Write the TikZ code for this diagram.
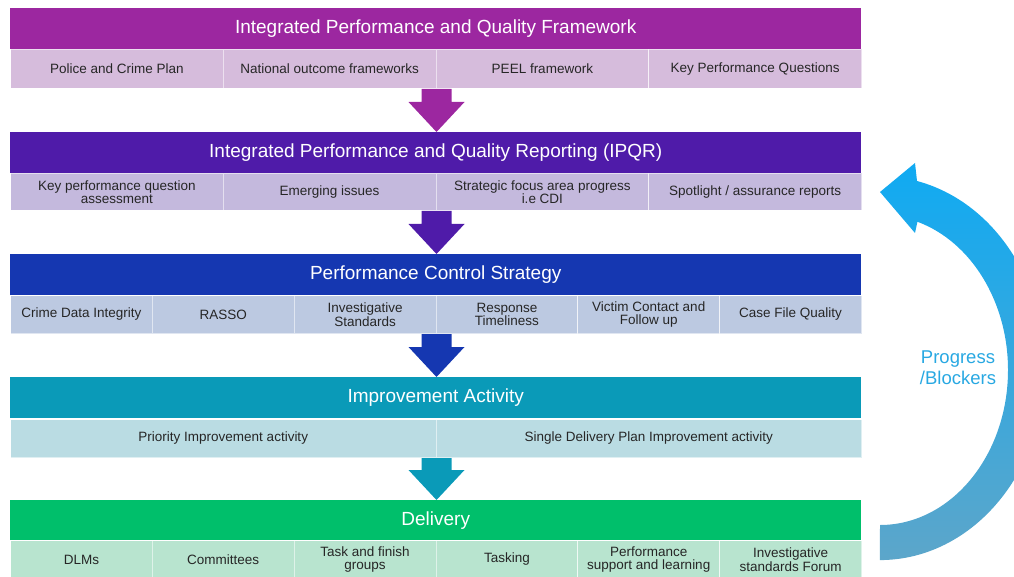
\documentclass[tikz,border=0pt]{standalone}
\usepackage{fontspec}
\setmainfont{Liberation Sans}
\usetikzlibrary{calc}

\definecolor{fwhead}{RGB}{156,39,160}
\definecolor{fwcell}{RGB}{214,188,220}
\definecolor{rphead}{RGB}{79,27,169}
\definecolor{rpcell}{RGB}{196,185,221}
\definecolor{cshead}{RGB}{21,55,177}
\definecolor{cscell}{RGB}{188,201,225}
\definecolor{iahead}{RGB}{10,154,184}
\definecolor{iacell}{RGB}{186,220,227}
\definecolor{dlhead}{RGB}{0,191,107}
\definecolor{dlcell}{RGB}{184,228,207}
\definecolor{looptop}{RGB}{16,170,242}
\definecolor{loopbot}{RGB}{92,166,202}
\definecolor{looptext}{RGB}{40,168,226}

\tikzset{
  hdr/.style={anchor=north west, minimum width=851, minimum height=41, inner sep=0,
    text=white, font=\fontsize{19}{22}\selectfont},
  cellbox/.style={anchor=north west, minimum height=38, inner sep=0, draw=white,
    draw opacity=0.55, line width=1, text=black!85, align=center,
    font=\fontsize{13.5}{13.5}\selectfont},
  quad/.style={cellbox, minimum width=212.75},
  sixth/.style={cellbox, minimum width=141.83},
  half/.style={cellbox, minimum width=425.5},
}

% block arrow from a row down to the next header
\newcommand{\flowarrow}[3]{%
  \fill[#3] let \p1=(#1), \p2=(#2) in
    (\x1-15pt,\y1) -- (\x1+15pt,\y1) -- (\x1+15pt,\y2+30pt) -- (\x1+28pt,\y2+30pt)
    -- (\x2,\y2) -- (\x1-28pt,\y2+30pt) -- (\x1-15pt,\y2+30pt) -- cycle;}

\begin{document}
\begin{tikzpicture}[x=1pt, y=-1pt]
    \useasboundingbox (0,0) rectangle (1014,577);

    % Framework
    \node[hdr, fill=fwhead] (ipqf) at (10,8) {Integrated Performance and Quality Framework};
    \node[quad, fill=fwcell, minimum height=39] (pcp) at (10,49) {Police and Crime Plan};
    \node[quad, fill=fwcell, minimum height=39] (nof) at (222.75,49) {National outcome frameworks};
    \node[quad, fill=fwcell, minimum height=39] (peel) at (435.5,49) {PEEL framework};
    \node[quad, fill=fwcell, minimum height=39] (kpq) at (648.25,49) {Key Performance Questions};

    % Reporting
    \node[hdr, fill=rphead] (ipqr) at (10,132) {Integrated Performance and Quality Reporting (IPQR)};
    \node[quad, fill=rpcell, minimum height=37] (kpqa) at (10,173) {Key performance question\\assessment};
    \node[quad, fill=rpcell, minimum height=37] (emerg) at (222.75,173) {Emerging issues};
    \node[quad, fill=rpcell, minimum height=37] (sfa) at (435.5,173) {Strategic focus area progress\\i.e CDI};
    \node[quad, fill=rpcell, minimum height=37] (spot) at (648.25,173) {Spotlight / assurance reports};

    % Control strategy
    \node[hdr, fill=cshead] (pcs) at (10,254) {Performance Control Strategy};
    \node[sixth, fill=cscell] (cdi) at (10,295) {Crime Data Integrity};
    \node[sixth, fill=cscell] (rasso) at (151.83,295) {RASSO};
    \node[sixth, fill=cscell] (invstd) at (293.67,295) {Investigative\\Standards};
    \node[sixth, fill=cscell] (resp) at (435.5,295) {Response\\Timeliness};
    \node[sixth, fill=cscell] (victim) at (577.33,295) {Victim Contact and\\Follow up};
    \node[sixth, fill=cscell] (cfq) at (719.17,295) {Case File Quality};

    % Improvement activity
    \node[hdr, fill=iahead] (impr) at (10,377) {Improvement Activity};
    \node[half, fill=iacell] (pia) at (10,419) {Priority Improvement activity};
    \node[half, fill=iacell] (sdp) at (435.5,419) {Single Delivery Plan Improvement activity};

    % Delivery
    \node[hdr, fill=dlhead, minimum height=40] (deliv) at (10,500) {Delivery};
    \node[sixth, fill=dlcell] (dlm) at (10,540) {DLMs};
    \node[sixth, fill=dlcell] (comm) at (151.83,540) {Committees};
    \node[sixth, fill=dlcell] (tfg) at (293.67,540) {Task and finish\\groups};
    \node[sixth, fill=dlcell] (task) at (435.5,540) {Tasking};
    \node[sixth, fill=dlcell] (psl) at (577.33,540) {Performance\\support and learning};
    \node[sixth, fill=dlcell] (isf) at (719.17,540) {Investigative\\standards Forum};

    % Arrows between the stages
    \flowarrow{nof.south east}{ipqr.north -| nof.south east}{fwhead}
    \flowarrow{emerg.south east}{pcs.north -| emerg.south east}{rphead}
    \flowarrow{invstd.south east}{impr.north -| invstd.south east}{cshead}
    \flowarrow{pia.south east}{deliv.north -| pia.south east}{iahead}

    % Feedback loop
    \begin{scope}
        \clip (0,0) rectangle (1014,577);
        \shade[top color=looptop, bottom color=loopbot]
            (917,181) arc[start angle=-77, end angle=90, x radius=165, y radius=192]
            -- (880,525) arc[start angle=90, end angle=-73, x radius=128, y radius=155]
            -- (915,233) -- (880,192) -- (915,163) -- cycle;
    \end{scope}
    \node[text=looptext, align=center, font=\fontsize{18.5}{21}\selectfont] (prog) at (958,368) {Progress\\/Blockers};
\end{tikzpicture}
\end{document}
